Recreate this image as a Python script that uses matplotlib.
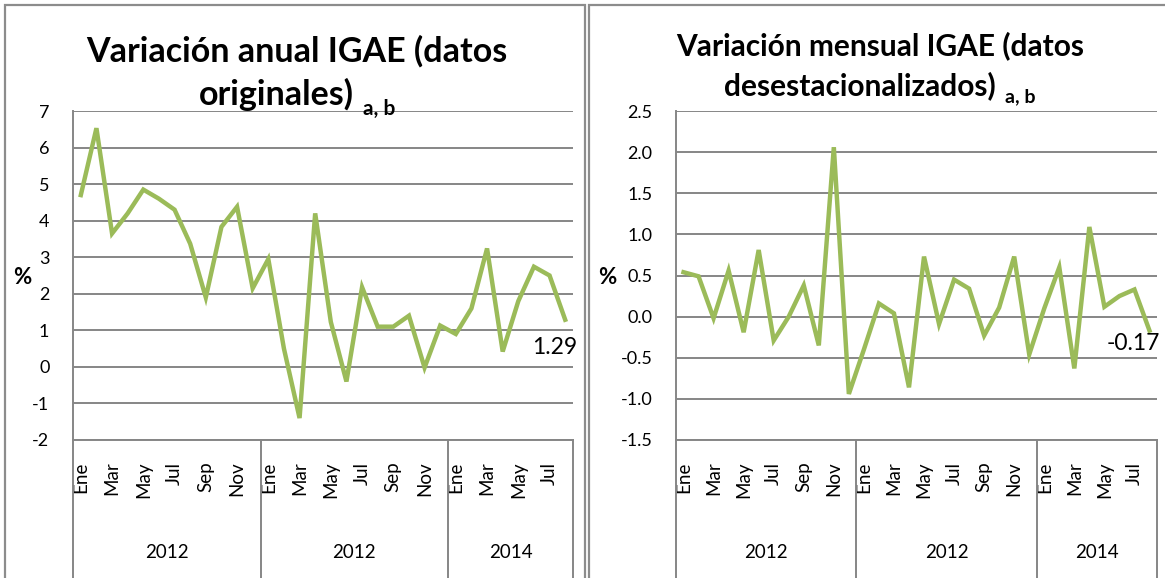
import matplotlib
matplotlib.use('Agg')
import matplotlib.pyplot as plt
import matplotlib.transforms as mtransforms
from matplotlib.lines import Line2D
from matplotlib.patches import Rectangle

plt.rcParams['font.family'] = ['Lato', 'DejaVu Sans']

# datos
meses = ['Ene', 'Feb', 'Mar', 'Abr', 'May', 'Jun', 'Jul', 'Ago', 'Sep', 'Oct', 'Nov', 'Dic']
etiquetas_mes = (meses * 3)[:32]
grupos = ['2012', '2012', '2014']
grupo_tam = [12, 12, 8]

anual = [4.70, 6.53, 3.65, 4.20, 4.85, 4.60, 4.30, 3.37, 1.90, 3.83, 4.38, 2.15,
         2.95, 0.50, -1.40, 4.20, 1.23, -0.40, 2.18, 1.10, 1.10, 1.40, -0.02, 1.13,
         0.90, 1.60, 3.24, 0.42, 1.80, 2.74, 2.50, 1.29]

mensual = [0.54, 0.49, -0.02, 0.56, -0.19, 0.81, -0.29, 0.00, 0.38, -0.35, 2.06, -0.94,
           -0.40, 0.16, 0.04, -0.86, 0.73, -0.09, 0.45, 0.34, -0.23, 0.11, 0.73, -0.46,
           0.10, 0.60, -0.63, 1.09, 0.12, 0.25, 0.33, -0.17]

ticks_anual = [-2, -1, 0, 1, 2, 3, 4, 5, 6, 7]
ticks_mensual = [-1.5, -1.0, -0.5, 0.0, 0.5, 1.0, 1.5, 2.0, 2.5]

VERDE = '#9BBB59'
GRIS = '#868686'
W, H = 1165, 578


def fx(px):
    return px / W


def fy(py):
    return 1 - py / H


def dibujar_panel(ax, valores, yticks, fmt, etiqueta_final, offset_final):
    n = len(valores)
    x = list(range(n))
    ax.plot(x, valores, color=VERDE, linewidth=3.2, solid_joinstyle='miter', zorder=3)
    ax.set_xlim(-0.5, n - 0.5)
    ax.set_ylim(yticks[0], yticks[-1])
    ax.set_yticks(yticks)
    ax.set_yticklabels([fmt % t for t in yticks])
    ax.set_xticks(x)
    ax.set_xticklabels([m if i % 2 == 0 else '' for i, m in enumerate(etiquetas_mes[:n])],
                       rotation=90)
    ax.tick_params(axis='y', length=0, pad=17, labelsize=13, colors='black')
    ax.tick_params(axis='x', length=0, pad=15.5, labelsize=13.5)
    ax.grid(axis='y', color=GRIS, linewidth=1.4)
    ax.set_axisbelow(True)
    for s in ['top', 'right']:
        ax.spines[s].set_visible(False)
    ax.spines['left'].set_color(GRIS)
    ax.spines['bottom'].set_color(GRIS)
    ax.spines['left'].set_linewidth(1.4)
    ax.spines['bottom'].set_linewidth(1.4)

    # eje de categorías de dos niveles
    trans = mtransforms.blended_transform_factory(ax.transData, ax.transAxes)
    alto = ax.get_position().height * H
    y_fondo = -(ax.get_position().y0 * H) / alto - 0.05
    limites = [-0.5]
    for t in grupo_tam:
        limites.append(limites[-1] + t)
    for b in limites:
        ax.add_line(Line2D([b, b], [0, y_fondo], transform=trans, color=GRIS,
                           linewidth=1.4, clip_on=False))
    y_anio = -113 / alto
    for g, a, b in zip(grupos, limites[:-1], limites[1:]):
        ax.text((a + b) / 2, y_anio, g, transform=trans, ha='center', va='center',
                fontsize=13.5)

    ax.annotate(etiqueta_final, xy=(n - 1, valores[-1]), xytext=offset_final,
                textcoords='offset pixels', ha='center', va='top', fontsize=16.5)


fig = plt.figure(figsize=(W / 100, H / 100), dpi=100)

# marcos de los paneles
fig.add_artist(Rectangle((fx(5), fy(600)), fx(580), 595 / H,
                         transform=fig.transFigure, fill=False, edgecolor='#8c8c8c',
                         linewidth=1.6))
fig.add_artist(Rectangle((fx(589), fy(600)), fx(700), 595 / H,
                         transform=fig.transFigure, fill=False, edgecolor='#8c8c8c',
                         linewidth=1.6))

ax1 = fig.add_axes([fx(73), 138 / H, fx(500), 329 / H])
ax2 = fig.add_axes([fx(676), 138 / H, fx(481), 329 / H])

dibujar_panel(ax1, anual, ticks_anual, '%d', '1.29', (-11, -17))
dibujar_panel(ax2, mensual, ticks_mensual, '%.1f', '-0.17', (-16, -2))

# títulos
fig.text(fx(297), fy(62), 'Variación anual IGAE (datos', ha='center', va='baseline',
         fontsize=24.5, fontweight='bold')
fig.text(fx(354), fy(105), 'originales)', ha='right', va='baseline',
         fontsize=24.5, fontweight='bold')
fig.text(fx(363), fy(115), 'a, b', ha='left', va='baseline', fontsize=15,
         fontweight='bold')

fig.text(fx(880), fy(55), 'Variación mensual IGAE (datos', ha='center', va='baseline',
         fontsize=21.5, fontweight='bold')
fig.text(fx(996), fy(95), 'desestacionalizados)', ha='right', va='baseline',
         fontsize=21.5, fontweight='bold')
fig.text(fx(1005), fy(102), 'a, b', ha='left', va='baseline', fontsize=14,
         fontweight='bold')

fig.text(fx(22), fy(278), '%', ha='center', va='center', fontsize=16, fontweight='bold')
fig.text(fx(607), fy(278), '%', ha='center', va='center', fontsize=16, fontweight='bold')

fig.savefig('out.png', dpi=100)
